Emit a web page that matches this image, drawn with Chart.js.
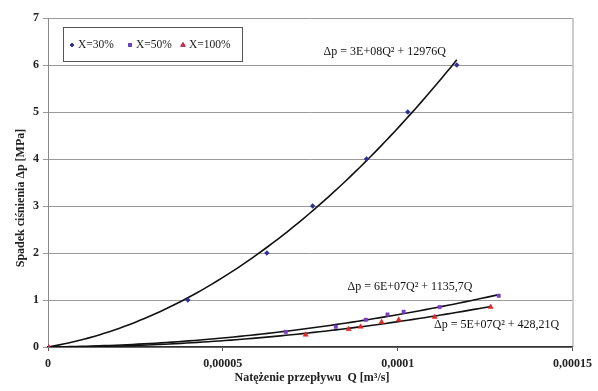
<!DOCTYPE html>
<html>
<head>
<meta charset="utf-8">
<script src="https://cdn.jsdelivr.net/npm/chart.js@4"></script>
<style>
html,body{margin:0;padding:0;background:#fff}
#wrap{width:598px;height:391px}
</style>
</head>
<body>
<div id="wrap"><canvas id="c" width="598" height="391"></canvas></div>
<script>
// Measurements: flow rate Q [m3/s] and pressure drop [MPa] at three valve openings
const q30  = [0, 4.00e-5, 6.26e-5, 7.57e-5, 9.11e-5, 1.029e-4, 1.169e-4];
const p30  = [0, 1, 2, 3, 4, 5, 6];
const q50  = [0, 6.80e-5, 8.23e-5, 9.09e-5, 9.71e-5, 1.017e-4, 1.120e-4, 1.289e-4];
const p50  = [0, 0.32, 0.43, 0.58, 0.69, 0.75, 0.85, 1.09];
const q100 = [0, 7.37e-5, 8.60e-5, 8.94e-5, 9.54e-5, 1.003e-4, 1.106e-4, 1.266e-4];
const p100 = [0, 0.26, 0.38, 0.43, 0.53, 0.58, 0.64, 0.85];

const seriesNames = ['X=30%', 'X=50%', 'X=100%'];
const trendLabels = ['\u0394p = 3E+08Q\u00b2 + 12976Q', '\u0394p = 6E+07Q\u00b2 + 1135,7Q', '\u0394p = 5E+07Q\u00b2 + 428,21Q'];
const xTicks = [0, 0.00005, 0.0001, 0.00015];

const SERIF = '"Liberation Serif", "DejaVu Serif", serif';

// least-squares fit of p = a*Q^2 + b*Q (trend through the origin)
function fitQuad(qs, ps) {
  let s4 = 0, s3 = 0, s2 = 0, t2 = 0, t1 = 0;
  for (let i = 0; i < qs.length; i++) {
    const x = qs[i] * 1e4, y = ps[i];
    s4 += x ** 4; s3 += x ** 3; s2 += x ** 2;
    t2 += y * x * x; t1 += y * x;
  }
  const det = s4 * s2 - s3 * s3;
  const a = (t2 * s2 - s3 * t1) / det;
  const b = (s4 * t1 - s3 * t2) / det;
  return { a: a * 1e8, b: b * 1e4 };
}
function trendPoints(qs, ps) {
  const f = fitQuad(qs, ps);
  const qmax = Math.max(...qs);
  const pts = [];
  for (let i = 0; i <= 80; i++) {
    const q = qmax * i / 80;
    pts.push({ x: q, y: f.a * q * q + f.b * q });
  }
  return pts;
}
const toXY = (qs, ps) => qs.map((q, i) => ({ x: q, y: ps[i] }));

const colors = ['#2c2c9a', '#7b3fc4', '#e02626'];
const styles = ['rectRot', 'rect', 'triangle'];

const trendSet = (qs, ps) => ({
  type: 'line', data: trendPoints(qs, ps), borderColor: '#111', borderWidth: 1.6,
  pointRadius: 0, fill: false, tension: 0, order: 5
});
const pointSet = (name, qs, ps, k) => ({
  type: 'scatter', label: name, data: toXY(qs, ps), showLine: false,
  pointStyle: styles[k], pointRadius: k === 2 ? 3 : 2.4,
  backgroundColor: colors[k], borderColor: colors[k], borderWidth: 0.5, order: 3 - k
});

const decorations = {
  id: 'decorations',
  beforeDatasetsDraw(chart) {
    const { ctx, chartArea: a } = chart;
    ctx.save();
    ctx.strokeStyle = '#9a9a9a';
    ctx.lineWidth = 1;
    ctx.beginPath();
    ctx.moveTo(a.right + 0.5, a.top);
    ctx.lineTo(a.right + 0.5, a.bottom);
    ctx.stroke();
    ctx.restore();
  },
  afterDatasetsDraw(chart) {
    const { ctx } = chart;
    const xs = chart.scales.x, ys = chart.scales.y;
    ctx.save();
    // trend equations
    ctx.fillStyle = '#111';
    ctx.font = '12px ' + SERIF;
    ctx.textAlign = 'center';
    ctx.textBaseline = 'middle';
    const anchors = [[9.63e-5, 6.29], [1.035e-4, 1.28], [1.283e-4, 0.47]];
    anchors.forEach((p, i) => {
      ctx.fillText(trendLabels[i], xs.getPixelForValue(p[0]), ys.getPixelForValue(p[1]));
    });

    // legend box
    const lx = 63, ly = 27, lw = 179, lh = 34;
    ctx.fillStyle = '#fff';
    ctx.fillRect(lx, ly, lw, lh);
    ctx.strokeStyle = '#555';
    ctx.lineWidth = 1;
    ctx.strokeRect(lx + 0.5, ly + 0.5, lw, lh);
    const items = [[72, 78], [130, 136], [183, 189]];
    ctx.font = '11.5px ' + SERIF;
    ctx.textAlign = 'left';
    items.forEach((it, i) => {
      Chart.helpers.drawPoint(ctx, {
        pointStyle: styles[i], radius: i === 2 ? 2.6 : 2, borderWidth: 0.5
      }, it[0], 45);
      ctx.fillStyle = colors[i];
      ctx.strokeStyle = colors[i];
      Chart.helpers.drawPoint(ctx, { pointStyle: styles[i], radius: i === 2 ? 2.6 : 2 }, it[0], 45);
      ctx.fill();
      ctx.fillStyle = '#222';
      ctx.fillText(seriesNames[i], it[1], 45);
    });

    // axis titles
    ctx.fillStyle = '#222';
    ctx.font = 'bold 12px ' + SERIF;
    ctx.textAlign = 'center';
    ctx.fillText('Nat\u0119\u017cenie przep\u0142ywu  Q [m\u00b3/s]', 312, 378);
    ctx.translate(21, 198);
    ctx.rotate(-Math.PI / 2);
    ctx.fillText('Spadek ci\u015bnienia \u0394p [MPa]', 0, 0);
    ctx.restore();
  }
};

new Chart(document.getElementById('c'), {
  data: {
    datasets: [
      trendSet(q30, p30), trendSet(q50, p50), trendSet(q100, p100),
      pointSet(seriesNames[0], q30, p30, 0),
      pointSet(seriesNames[1], q50, p50, 1),
      pointSet(seriesNames[2], q100, p100, 2)
    ]
  },
  options: {
    responsive: false,
    devicePixelRatio: 1,
    animation: false,
    layout: { padding: { top: 18, right: 25, left: 0, bottom: 0 } },
    plugins: { legend: { display: false }, tooltip: { enabled: false } },
    scales: {
      x: {
        type: 'linear', min: 0, max: 0.00015,
        afterBuildTicks: s => { s.ticks = xTicks.map(v => ({ value: v })); },
        afterFit: s => { s.height = 44; },
        ticks: {
          color: '#222', padding: 6,
          font: { family: SERIF, size: 12, weight: 'bold' },
          callback: v => String(Number(v.toPrecision(6))).replace('.', ',')
        },
        grid: { drawOnChartArea: false, drawTicks: true, tickLength: 4, color: '#555' },
        border: { display: true, color: '#333', width: 1.5 }
      },
      y: {
        min: 0, max: 7,
        afterFit: s => { s.width = 48; },
        ticks: {
          stepSize: 1, color: '#222', padding: 4,
          font: { family: SERIF, size: 12, weight: 'bold' }
        },
        grid: { color: '#9a9a9a', lineWidth: 1, tickLength: 5 },
        border: { display: true, color: '#888', width: 1 }
      }
    }
  },
  plugins: [decorations]
});
</script>
</body>
</html>
